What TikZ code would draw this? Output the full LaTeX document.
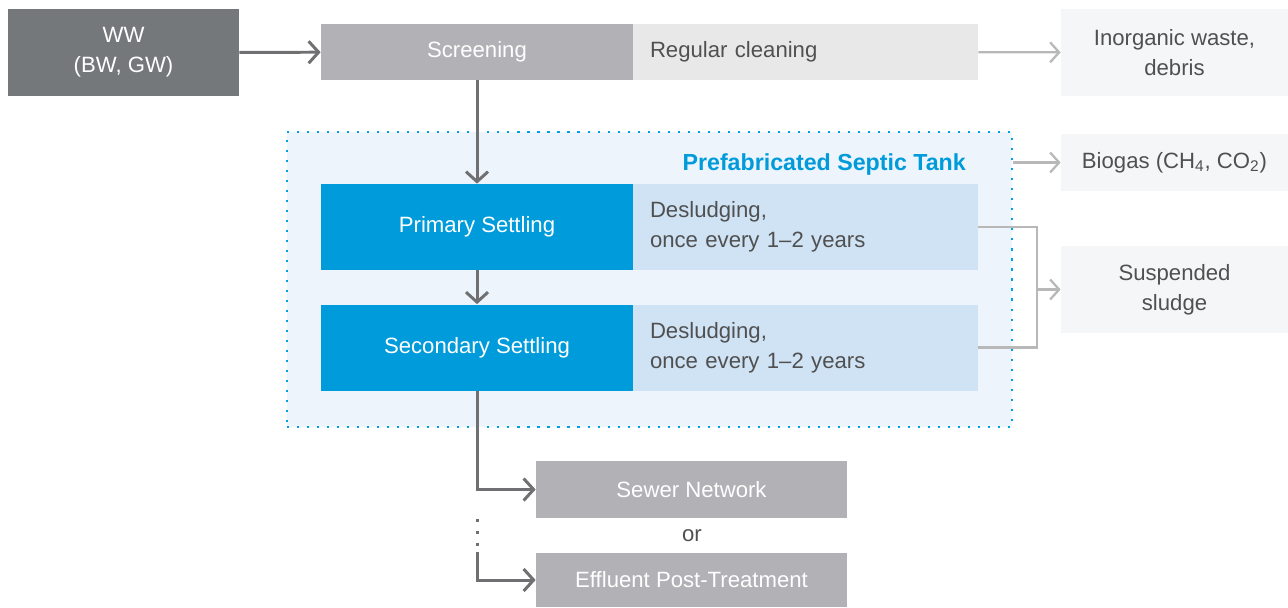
\documentclass[tikz,border=0pt]{standalone}
\usepackage{fontspec}
\setmainfont{Liberation Sans}
\usetikzlibrary{arrows.meta,positioning}

\definecolor{wwgray}{HTML}{75787B}
\definecolor{boxgray}{HTML}{B1B1B6}
\definecolor{cleangray}{HTML}{E8E8E8}
\definecolor{outgray}{HTML}{F5F6F8}
\definecolor{tankblue}{HTML}{009BDB}
\definecolor{lightblue}{HTML}{CFE3F5}
\definecolor{tankfill}{HTML}{EEF4FB}
\definecolor{dotblue}{HTML}{00A0E9}
\definecolor{darkline}{HTML}{707072}
\definecolor{lightline}{HTML}{B8B8B8}
\definecolor{txtgray}{HTML}{505050}

\tikzset{
  box/.style={rectangle, inner sep=0pt, align=center, font=\fontsize{12.6}{17}\selectfont},
  graybox/.style={box, fill=boxgray, text=white, minimum width=6.24cm, minimum height=1.12cm},
  bluebox/.style={box, fill=tankblue, text=white, minimum width=6.24cm, minimum height=1.72cm},
  notebox/.style={box, text=txtgray, minimum width=6.9cm, text width=6.22cm, align=left},
  outbox/.style={box, fill=outgray, text=txtgray, minimum width=4.54cm},
  mainarrow/.style={draw=darkline, line width=1.7pt, -{Straight Barb[length=2mm,width=4.4mm]}},
  sidearrow/.style={draw=lightline, line width=1.3pt, -{Straight Barb[length=1.8mm,width=4mm]}}
}

\begin{document}
\begin{tikzpicture}

\useasboundingbox (0,0) rectangle (25.76,-12.14);

% septic tank frame
\node[rectangle, fill=tankfill, draw=dotblue, line width=1.5pt, dash pattern=on 1.2pt off 4.5pt,
      minimum width=14.5cm, minimum height=5.9cm, inner sep=0pt] (tank) at (12.99,-5.59) {};
\node[anchor=east, text=tankblue, font=\fontsize{13.2}{15}\selectfont\bfseries] (tanklabel) at (19.44,-3.28) {Prefabricated Septic Tank};

% inflow and screening
\node[box, fill=wwgray, text=white, minimum width=4.62cm, minimum height=1.74cm] (ww) at (2.47,-1.05) {WW\\(BW, GW)};
\node[graybox] (screen) at (9.54,-1.04) {Screening};
\node[notebox, fill=cleangray, minimum height=1.12cm] (clean) at (16.11,-1.04) {Regular cleaning};

% settling stages
\node[bluebox] (primary) at (9.54,-4.54) {Primary Settling};
\node[notebox, fill=lightblue, minimum height=1.72cm] (desl1) at (16.11,-4.54) {Desludging,\\once every 1--2 years};
\node[bluebox] (secondary) at (9.54,-6.95) {Secondary Settling};
\node[notebox, fill=lightblue, minimum height=1.72cm] (desl2) at (16.11,-6.95) {Desludging,\\once every 1--2 years};

% outputs
\node[outbox, minimum height=1.74cm] (inorg) at (23.49,-1.05) {Inorganic waste,\\debris};
\node[outbox, minimum height=1.14cm] (biogas) at (23.49,-3.25) {Biogas (CH\textsubscript{4}, CO\textsubscript{2})};
\node[outbox, minimum height=1.74cm] (sludge) at (23.49,-5.79) {Suspended\\sludge};

% effluent
\node[graybox, minimum width=6.22cm, minimum height=1.14cm] (sewer) at (13.83,-9.79) {Sewer Network};
\node[box, text=txtgray] (or) at (13.84,-10.72) {or};
\node[graybox, minimum width=6.22cm, minimum height=1.08cm] (effluent) at (13.83,-11.6) {Effluent Post-Treatment};

% main flow
\draw[mainarrow] (ww) -- (screen);
\draw[mainarrow] (screen) -- (primary);
\draw[mainarrow] (primary) -- (secondary);
\draw[mainarrow] (secondary.south) |- (sewer.west);
\coordinate (dotstart) at (9.54,-10.38);
\coordinate (dotend) at (9.54,-11.04);
\draw[darkline, line width=1.7pt, dash pattern=on 1.7pt off 5pt] (dotstart) -- (dotend);
\draw[mainarrow] (dotend) |- (effluent.west);

% side flows
\draw[sidearrow] (clean) -- (inorg);
\draw[sidearrow] (tank.east |- biogas.west) -- (biogas.west);
\coordinate (bracket) at (20.74,-5.79);
\draw[lightline, line width=1.3pt] (desl1.east) -| (bracket) |- (desl2.east);
\draw[sidearrow] (bracket) -- (sludge.west);

\end{tikzpicture}
\end{document}
